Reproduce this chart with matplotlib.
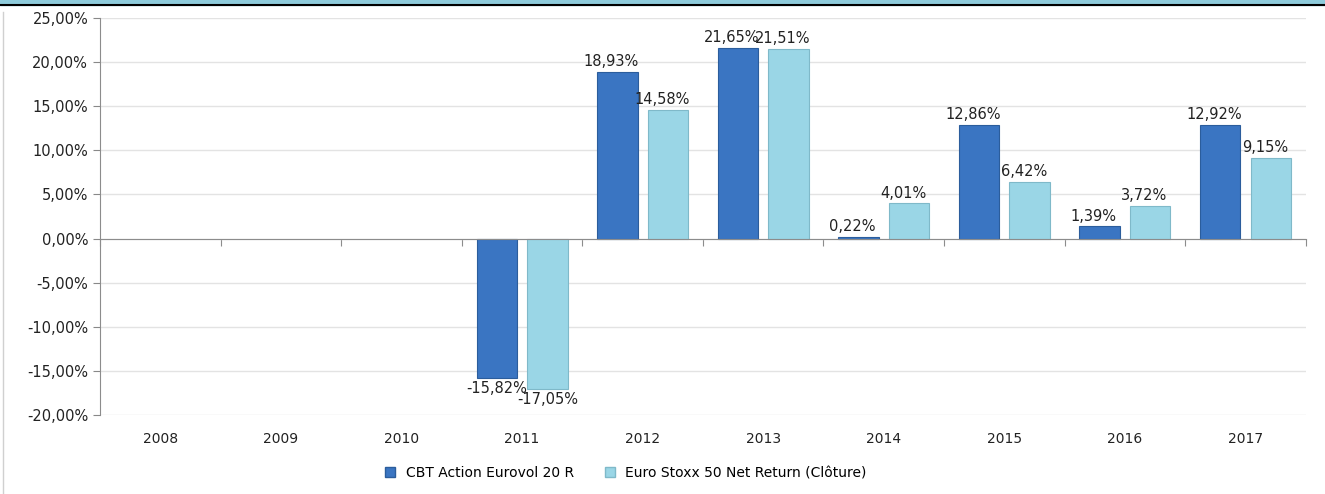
import matplotlib.pyplot as plt
import matplotlib.ticker as mticker
import numpy as np
from matplotlib.patches import Rectangle
from matplotlib.lines import Line2D

annees = ["2008", "2009", "2010", "2011", "2012", "2013", "2014", "2015", "2016", "2017"]
cbt = [None, None, None, -15.82, 18.93, 21.65, 0.22, 12.86, 1.39, 12.92]
stoxx = [None, None, None, -17.05, 14.58, 21.51, 4.01, 6.42, 3.72, 9.15]
noms = ["CBT Action Eurovol 20 R", "Euro Stoxx 50 Net Return (Clôture)"]

c_fonce = "#3a75c2"
c_clair = "#9ad6e6"

fig = plt.figure(figsize=(13.25, 4.94), dpi=100)
ax = fig.add_axes([0.0755, 0.16, 0.910, 0.8036])

x = np.arange(len(annees))
larg = 0.335

def fmt(v):
    return f"{v:.2f}".replace(".", ",") + "%"

for serie, dx, coul, bord in [(cbt, -0.21, c_fonce, "#2b5d9c"), (stoxx, 0.21, c_clair, "#7fb9c9")]:
    for i, v in enumerate(serie):
        if v is None:
            continue
        ax.bar(x[i] + dx, v, width=larg, color=coul, edgecolor=bord, linewidth=0.8, zorder=3)
        if v >= 0:
            ax.text(x[i] + dx - 0.05, v + 0.3, fmt(v), ha="center", va="bottom", fontsize=10.5, color="#222222")
        else:
            ax.text(x[i] + dx, v - 0.3, fmt(v), ha="center", va="top", fontsize=10.5, color="#222222")

ax.set_xlim(-0.5, len(annees) - 0.5)
ax.set_ylim(-20, 25)
ax.yaxis.set_major_locator(mticker.MultipleLocator(5))
ax.yaxis.set_major_formatter(mticker.FuncFormatter(lambda v, p: f"{v:.2f}".replace(".", ",") + "%"))
ax.tick_params(axis="y", labelsize=10.5, colors="#888888", labelcolor="#222222", length=5)
ax.grid(axis="y", color="#e3e3e3", linewidth=1, zorder=0)

for s in ["top", "right"]:
    ax.spines[s].set_visible(False)
ax.spines["left"].set_color("#8c8c8c")
ax.spines["bottom"].set_position(("data", 0))
ax.spines["bottom"].set_color("#8c8c8c")
ax.spines["bottom"].set_zorder(4)
ax.set_xticks(np.arange(len(annees) + 1) - 0.5)
ax.set_xticklabels([])
ax.tick_params(axis="x", direction="out", length=5, colors="#8c8c8c")

sec = ax.secondary_xaxis(0)
sec.set_xticks(x)
sec.set_xticklabels(annees)
sec.tick_params(length=0, labelsize=10, pad=12, labelcolor="#222222")
sec.spines["bottom"].set_visible(False)

poignees = [Line2D([], [], marker="s", linestyle="", markersize=7, markerfacecolor=c, markeredgecolor=e)
            for c, e in [(c_fonce, "#2b5d9c"), (c_clair, "#7fb9c9")]]
fig.legend(poignees, noms, loc="center", bbox_to_anchor=(0.469, 0.0425), ncol=2, frameon=False,
           fontsize=10, handletextpad=0.1, columnspacing=1.6)

# bandeau du haut et bord gauche
fig.patches.append(Rectangle((0, 1 - 5 / 494), 1, 5 / 494, transform=fig.transFigure, color="#8ecbdb", zorder=0))
fig.lines.append(Line2D([0, 1], [1 - 5.5 / 494] * 2, transform=fig.transFigure, color="black", linewidth=1.5))
fig.lines.append(Line2D([3 / 1325] * 2, [0, 1 - 12 / 494], transform=fig.transFigure, color="#d0d0d0", linewidth=1))

fig.savefig("out.png", dpi=100)
